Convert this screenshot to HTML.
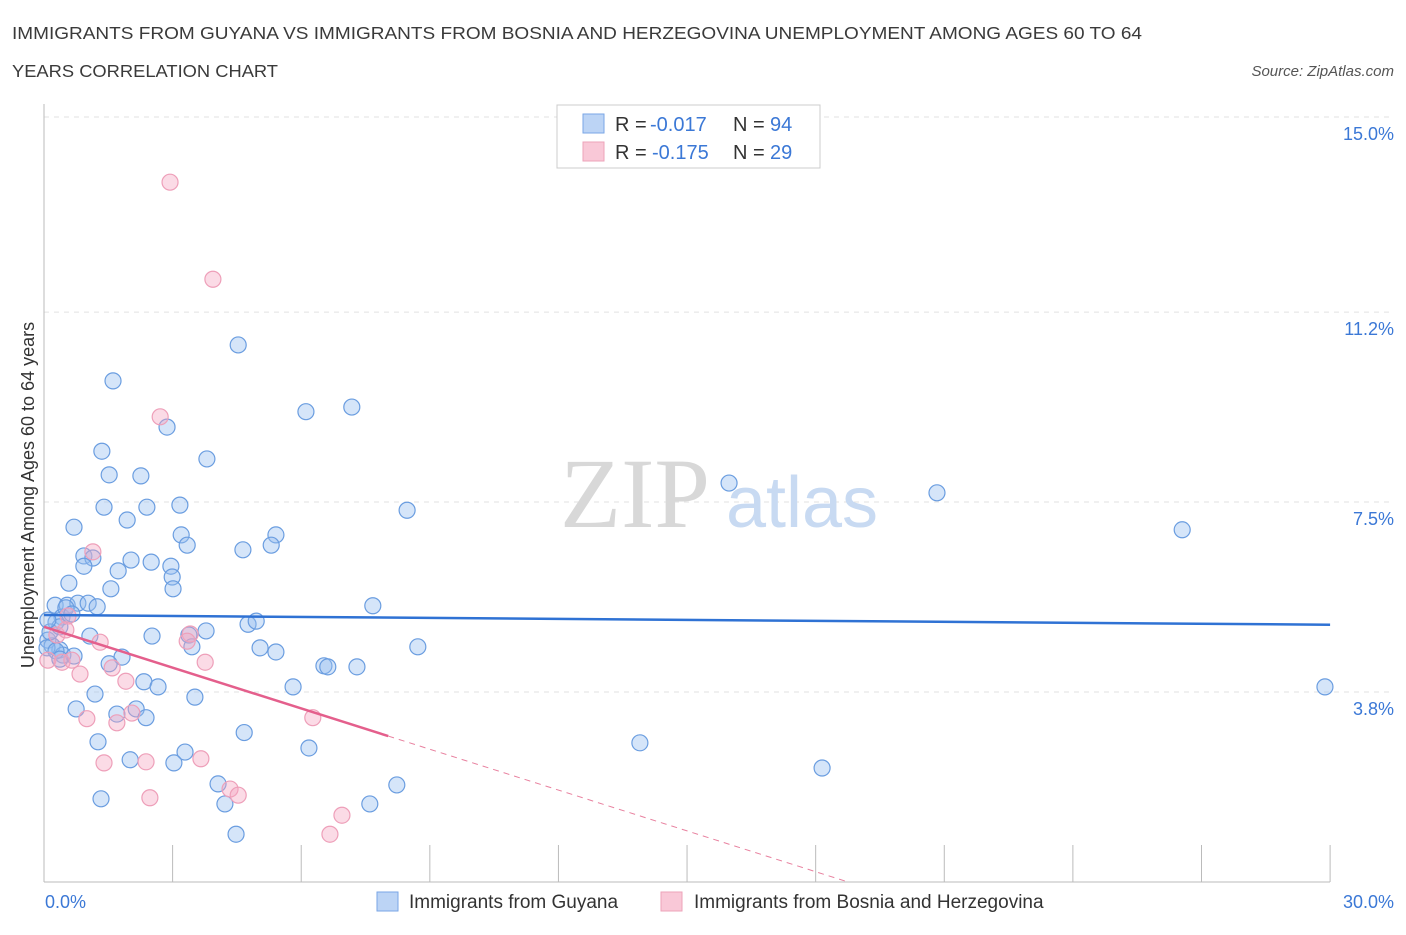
<!DOCTYPE html>
<html><head><meta charset="utf-8"><style>
body{margin:0;background:#fff;font-family:"Liberation Sans",sans-serif;}
</style></head><body>
<svg width="1406" height="930" font-family="Liberation Sans, sans-serif">
<text x="12" y="39" font-size="17.5" fill="#3a3a3a" textLength="1130" lengthAdjust="spacingAndGlyphs">IMMIGRANTS FROM GUYANA VS IMMIGRANTS FROM BOSNIA AND HERZEGOVINA UNEMPLOYMENT AMONG AGES 60 TO 64</text>
<text x="12" y="77" font-size="17.5" fill="#3a3a3a" textLength="266" lengthAdjust="spacingAndGlyphs">YEARS CORRELATION CHART</text>
<text x="1394" y="76" font-size="15" fill="#555" font-style="italic" text-anchor="end">Source: ZipAtlas.com</text>
<g id="grid"></g>
<text x="635" y="527" font-size="100" fill="#d8d8d8" style="font-family:'Liberation Serif',serif" text-anchor="middle">ZIP</text>
<text x="802" y="527" font-size="72" fill="#c8daf2" text-anchor="middle">atlas</text>
<g id="marks"></g>
<text transform="translate(34,495) rotate(-90)" font-size="18" fill="#333" text-anchor="middle">Unemployment Among Ages 60 to 64 years</text>
<text x="45" y="908" font-size="18" fill="#3b78d6">0.0%</text>
<text x="1394" y="908" font-size="18" fill="#3b78d6" text-anchor="end">30.0%</text>
<g>
<rect x="557" y="105" width="263" height="63" fill="#fff" stroke="#ccc"/>
<rect x="583" y="114" width="21" height="19" fill="#bcd4f5" stroke="#7aa6e6"/>
<rect x="583" y="142" width="21" height="19" fill="#f9c8d7" stroke="#eda3ba"/>
<text x="615" y="131" font-size="20" fill="#333">R =</text>
<text x="650" y="131" font-size="20" fill="#3b78d6">-0.017</text>
<text x="733" y="131" font-size="20" fill="#333">N =</text>
<text x="770" y="131" font-size="20" fill="#3b78d6">94</text>
<text x="615" y="159" font-size="20" fill="#333">R =</text>
<text x="652" y="159" font-size="20" fill="#3b78d6">-0.175</text>
<text x="733" y="159" font-size="20" fill="#333">N =</text>
<text x="770" y="159" font-size="20" fill="#3b78d6">29</text>
</g>
<g>
<rect x="377" y="892" width="21" height="19" fill="#bcd4f5" stroke="#7aa6e6"/>
<text x="409" y="908" font-size="19" fill="#333">Immigrants from Guyana</text>
<rect x="661" y="892" width="21" height="19" fill="#f9c8d7" stroke="#eda3ba"/>
<text x="694" y="908" font-size="19" fill="#333">Immigrants from Bosnia and Herzegovina</text>
</g>
</svg>
<script>
const blueX=[4.53,1.61,7.18,6.11,2.87,1.35,3.80,1.52,2.26,15.98,20.83,3.17,1.40,2.40,8.47,0.70,1.94,26.55,3.20,5.41,3.34,4.64,5.30,0.93,1.14,2.03,2.50,0.93,1.73,2.96,2.99,0.58,1.56,3.01,0.26,0.54,0.79,1.03,1.24,7.67,4.76,4.95,0.42,0.28,3.78,1.07,2.52,3.38,5.04,8.72,0.09,0.19,0.37,0.44,0.70,5.41,1.82,1.52,3.45,6.53,6.62,7.30,2.33,2.66,5.81,1.19,3.52,29.88,0.75,1.70,2.15,2.38,4.67,1.26,13.90,6.18,3.29,2.01,3.03,18.15,4.06,8.23,1.33,4.22,7.60,4.48,0.14,0.07,0.37,0.51,0.65,0.28,0.37,0.09];
const blueY=[10.56,9.86,9.35,9.26,8.96,8.49,8.34,8.03,8.01,7.87,7.68,7.44,7.40,7.40,7.34,7.01,7.15,6.96,6.86,6.86,6.66,6.57,6.66,6.45,6.41,6.37,6.33,6.25,6.16,6.25,6.04,5.92,5.81,5.81,5.49,5.49,5.53,5.53,5.46,5.48,5.12,5.18,5.26,5.16,4.99,4.89,4.89,4.91,4.66,4.68,4.81,4.70,4.62,4.52,4.50,4.58,4.48,4.35,4.68,4.31,4.29,4.29,4.00,3.90,3.90,3.76,3.70,3.90,3.47,3.37,3.47,3.30,3.01,2.83,2.81,2.71,2.63,2.48,2.42,2.32,2.01,1.99,1.72,1.62,1.62,1.03,4.97,4.66,5.07,5.44,5.32,4.60,4.44,5.20];
const pinkX=[2.94,3.94,2.71,1.14,0.56,0.30,0.51,0.09,3.41,1.31,3.34,0.42,0.65,0.84,3.76,1.59,1.91,6.27,1.00,1.70,2.05,1.40,2.38,3.66,2.47,4.34,4.53,6.95,6.67];
const pinkY=[13.73,11.84,9.16,6.53,5.28,4.91,5.01,4.42,4.93,4.77,4.79,4.38,4.42,4.15,4.38,4.27,4.01,3.30,3.28,3.20,3.39,2.42,2.44,2.50,1.74,1.91,1.79,1.40,1.03];
const blueTrend=[5.30,5.11];
const pinkTrend=[5.07,-0.265];
const yTicks=[15.0,11.2,7.5,3.8];
const yTickLabels=["15.0%","11.2%","7.5%","3.8%"];
const xTicks=[0,3,6,9,12,15,18,21,24,27,30];
const NS="http://www.w3.org/2000/svg";
const sx=v=>44+v*42.87;
const sy=v=>117+(15-v)*51.34;
function mk(t,a,p){const e=document.createElementNS(NS,t);for(const k in a)e.setAttribute(k,a[k]);p.appendChild(e);return e;}
const grid=document.getElementById('grid'),marks=document.getElementById('marks');
yTicks.forEach((v,i)=>{
 const g=mk('line',{x1:44,x2:1394,y1:sy(v),y2:sy(v),stroke:'#e2e2e2','stroke-dasharray':'5,5'},grid);
 
 
 const t=mk('text',{x:1394,y:sy(v)+23,'font-size':18,fill:'#3b78d6','text-anchor':'end'},grid);
 t.textContent=yTickLabels[i];
 
 
});
const ya=mk('line',{x1:44,x2:44,y1:104,y2:882,stroke:'#bbb'},grid);


const xa=mk('line',{x1:44,x2:1330,y1:882,y2:882,stroke:'#bbb'},grid);


xTicks.forEach(v=>{
 const l=mk('line',{x1:sx(v),x2:sx(v),y1:845,y2:882,stroke:'#bbb'},grid);
 
 
});
blueX.forEach((x,i)=>{
 const c=mk('circle',{cx:sx(x),cy:sy(blueY[i]),r:8,fill:'rgba(150,190,240,0.4)',stroke:'#6a9de0','stroke-width':1.2},marks);
 
 
});
pinkX.forEach((x,i)=>{
 const c=mk('circle',{cx:sx(x),cy:sy(pinkY[i]),r:8,fill:'rgba(245,165,192,0.4)',stroke:'#ee9fb9','stroke-width':1.2},marks);
 
 
});
const bl=mk('line',{x1:sx(0),y1:sy(blueTrend[0]),x2:sx(30),y2:sy(blueTrend[1]),stroke:'#2f72d4','stroke-width':2.5},marks);


const pEnd=8.03,pZero=(pinkTrend[0]-0.1)/-pinkTrend[1];
const pl=mk('line',{x1:sx(0),y1:sy(pinkTrend[0]),x2:sx(pEnd),y2:sy(pinkTrend[0]+pinkTrend[1]*pEnd),stroke:'#e45f8c','stroke-width':2.5},marks);


const pd=mk('line',{x1:sx(pEnd),y1:sy(pinkTrend[0]+pinkTrend[1]*pEnd),x2:sx(pZero),y2:sy(0.1),stroke:'#e8819f','stroke-width':1,'stroke-dasharray':'6,5'},marks);


</script>
</body></html>
